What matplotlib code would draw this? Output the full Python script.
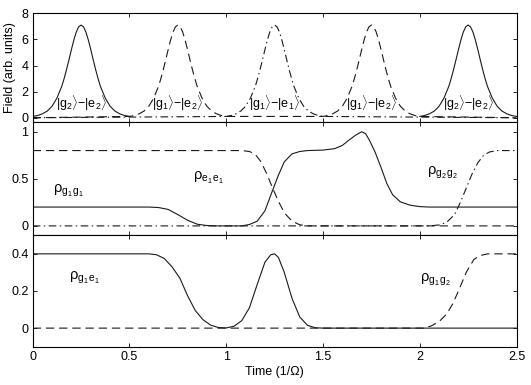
# Field pulses and populations / coherences versus time

import matplotlib.pyplot as plt
import numpy as np

plt.rcParams['font.family'] = ['Liberation Sans', 'DejaVu Sans']
plt.rcParams['mathtext.fontset'] = 'custom'
plt.rcParams['mathtext.rm'] = 'Liberation Sans'
plt.rcParams['mathtext.it'] = 'Liberation Sans:italic'
plt.rcParams['lines.scale_dashes'] = False

# pulse shape (offset from centre, field value)
pulse_dt = [-0.25, -0.225, -0.2, -0.175, -0.15, -0.125, -0.1, -0.0875, -0.075,
            -0.0625, -0.05, -0.0375, -0.025, -0.0125, 0.0, 0.0125, 0.025, 0.0375,
            0.05, 0.0625, 0.075, 0.0875, 0.1, 0.125, 0.15, 0.175, 0.2, 0.225, 0.25]
pulse_amp = [0.1, 0.17, 0.3, 0.51, 0.88, 1.5, 2.4, 3.01, 3.7,
             4.45, 5.22, 5.95, 6.56, 6.96, 7.1, 6.96, 6.56, 5.95,
             5.22, 4.45, 3.7, 3.01, 2.4, 1.5, 0.88, 0.51, 0.3, 0.17, 0.1]
solid_centres = [0.25, 2.25]
dashed_centres = [0.75, 1.75]
dashdot_centres = [1.25]
pulse_labels = [r'$|\mathrm{g}_2\rangle$−$|\mathrm{e}_2\rangle$',
                r'$|\mathrm{g}_1\rangle$−$|\mathrm{e}_2\rangle$',
                r'$|\mathrm{g}_1\rangle$−$|\mathrm{e}_1\rangle$',
                r'$|\mathrm{g}_1\rangle$−$|\mathrm{e}_2\rangle$',
                r'$|\mathrm{g}_2\rangle$−$|\mathrm{e}_2\rangle$']
label_centres = [0.25, 0.75, 1.25, 1.75, 2.25]

# middle panel
g1g1_t = [0, 0.6, 0.65, 0.7, 0.75, 0.8, 0.85, 0.9, 0.95, 1.08, 1.12, 1.16, 1.2,
          1.24, 1.27, 1.3, 1.34, 1.38, 1.42, 1.5, 1.56, 1.6, 1.64, 1.67, 1.7,
          1.72, 1.74, 1.77, 1.8, 1.83, 1.86, 1.9, 1.95, 2.0, 2.05, 2.5]
g1g1_v = [0.2, 0.2, 0.195, 0.175, 0.12, 0.06, 0.018, 0.004, 0.0, 0.0, 0.015, 0.05, 0.16,
          0.38, 0.54, 0.68, 0.765, 0.79, 0.8, 0.805, 0.82, 0.855, 0.92, 0.965, 1.0,
          0.98, 0.91, 0.78, 0.62, 0.45, 0.33, 0.255, 0.22, 0.205, 0.2, 0.2]
e1e1_t = [0, 1.08, 1.12, 1.15, 1.18, 1.21, 1.24, 1.27, 1.3, 1.34, 1.38, 1.42, 2.5]
e1e1_v = [0.8, 0.8, 0.79, 0.76, 0.68, 0.55, 0.4, 0.26, 0.14, 0.05, 0.012, 0.0, 0.0]
g2g2_t = [0, 2.05, 2.1, 2.14, 2.18, 2.21, 2.24, 2.27, 2.3, 2.33, 2.36, 2.4, 2.5]
g2g2_v = [0.0, 0.0, 0.01, 0.04, 0.12, 0.25, 0.4, 0.55, 0.67, 0.75, 0.785, 0.8, 0.8]

# bottom panel
g1e1_t = [0, 0.6, 0.64, 0.68, 0.72, 0.76, 0.8, 0.84, 0.88, 0.92, 0.96, 1.0, 1.04,
          1.08, 1.12, 1.16, 1.2, 1.23, 1.25, 1.27, 1.3, 1.34, 1.38, 1.42, 1.46, 1.5, 2.5]
g1e1_v = [0.4, 0.4, 0.395, 0.375, 0.33, 0.27, 0.175, 0.095, 0.045, 0.016, 0.003, 0.001, 0.01,
          0.04, 0.11, 0.235, 0.355, 0.395, 0.4, 0.38, 0.3, 0.16, 0.06, 0.015, 0.002, 0.0, 0.0]
g1g2_t = [0, 2.02, 2.06, 2.1, 2.14, 2.17, 2.2, 2.24, 2.28, 2.31, 2.35, 2.5]
g1g2_v = [0.0, 0.0, 0.012, 0.035, 0.077, 0.13, 0.2, 0.3, 0.37, 0.39, 0.4, 0.4]

x_ticks = [0, 0.5, 1, 1.5, 2, 2.5]
x_ticklabels = ['0', '0.5', '1', '1.5', '2', '2.5']

DASH = (0, (6, 3.5))
DASHDOT = (0, (5.5, 2.5, 1, 2.5))
LW = 0.8
C = '#1a1a1a'

fig = plt.figure(figsize=(5.31, 3.85), dpi=100)
left, width = 0.0616, 0.9111
ax1 = fig.add_axes([left, 0.6823, width, 0.2832])
ax2 = fig.add_axes([left, 0.3888, width, 0.2935])
ax3 = fig.add_axes([left, 0.0995, width, 0.2894])

# top panel: field pulses
dt = np.array(pulse_dt)
for c in solid_centres:
    ax1.plot(c + dt, pulse_amp, '-', color=C, lw=LW)


def pulse_train(centres):
    t = [0.0]
    v = [0.0]
    for c in centres:
        t += list(c + dt)
        v += pulse_amp
    t.append(2.5)
    v.append(0.0)
    return t, v


t, v = pulse_train(dashed_centres)
ax1.plot(t, v, color=C, lw=LW, linestyle=DASH)
t, v = pulse_train(dashdot_centres)
ax1.plot(t, v, color=C, lw=LW, linestyle=DASHDOT)
for c, lab in zip(label_centres, pulse_labels):
    ax1.text(c, 1.1, lab, ha='center', va='center', fontsize=9)
ax1.set_ylim(-0.35, 8)
ax1.set_yticks([0, 2, 4, 6, 8])
ax1.set_ylabel('Field (arb. units)', fontsize=9, labelpad=4)

# middle panel
ax2.plot(g1g1_t, g1g1_v, '-', color=C, lw=LW)
ax2.plot(e1e1_t, e1e1_v, color=C, lw=LW, linestyle=DASH)
ax2.plot(g2g2_t, g2g2_v, color=C, lw=LW, linestyle=DASHDOT)
ax2.text(0.105, 0.37, r'$\mathrm{ρ}_{\mathrm{g}_1\,\mathrm{g}_1}$', ha='left', va='center', fontsize=10.5)
ax2.text(0.83, 0.51, r'$\mathrm{ρ}_{\mathrm{e}_1\,\mathrm{e}_1}$', ha='left', va='center', fontsize=10.5)
ax2.text(2.04, 0.56, r'$\mathrm{ρ}_{\mathrm{g}_2\,\mathrm{g}_2}$', ha='left', va='center', fontsize=10.5)
ax2.set_ylim(-0.1, 1.1)
ax2.set_yticks([0, 0.5, 1])
ax2.set_yticklabels(['0', '0.5', '1'])

# bottom panel
ax3.plot(g1e1_t, g1e1_v, '-', color=C, lw=LW)
ax3.plot(g1g2_t, g1g2_v, color=C, lw=LW, linestyle=DASH)
ax3.text(0.19, 0.27, r'$\mathrm{ρ}_{\mathrm{g}_1\,\mathrm{e}_1}$', ha='left', va='center', fontsize=10.5)
ax3.text(2.0, 0.26, r'$\mathrm{ρ}_{\mathrm{g}_1\,\mathrm{g}_2}$', ha='left', va='center', fontsize=10.5)
ax3.set_ylim(-0.1, 0.5)
ax3.set_yticks([0, 0.2, 0.4])
ax3.set_yticklabels(['0', '0.2', '0.4'])
ax3.set_xlabel('Time (1/Ω)', fontsize=9, labelpad=2)

for ax in (ax1, ax2, ax3):
    ax.set_xlim(0, 2.5)
    ax.set_xticks(x_ticks)
    ax.tick_params(direction='in', top=True, right=True, length=3.2, width=0.6,
                   labelsize=9, pad=3)
    for s in ax.spines.values():
        s.set_linewidth(0.8)
ax1.tick_params(labelbottom=False)
ax2.tick_params(labelbottom=False)
ax3.set_xticklabels(x_ticklabels)

fig.savefig('out.png', dpi=100)
